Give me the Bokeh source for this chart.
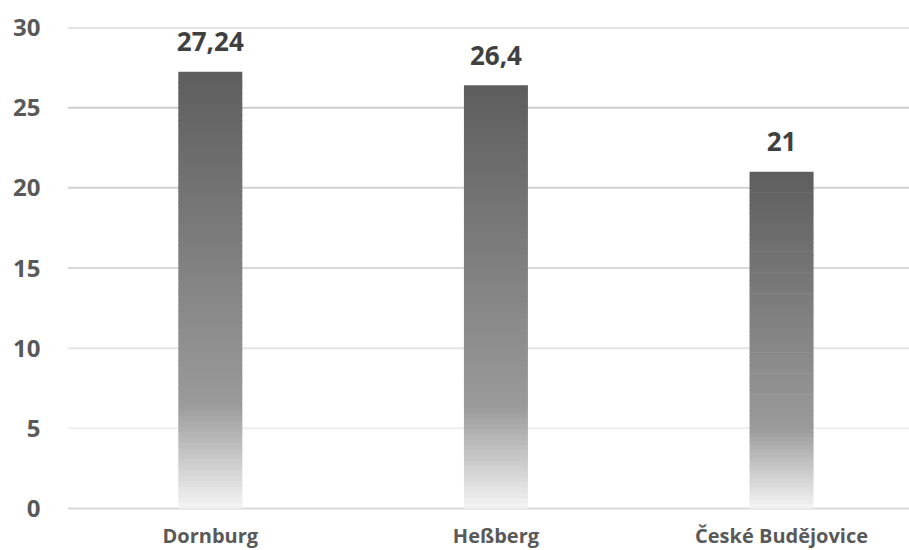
from bokeh.plotting import figure
from bokeh.models import Range1d, FixedTicker, Span, ColumnDataSource
from bokeh.embed import file_html
from bokeh.resources import INLINE
from bokeh.core.properties import value

# ---- data ----
categories = ["Dornburg", "Heßberg", "České Budějovice"]
values = [27.24, 26.4, 21]
value_labels = ["27,24", "26,4", "21"]
y_ticks = [0, 5, 10, 15, 20, 25, 30]

# ---- style ----
FONT = "Open Sans"
BAR_W = 0.224
grid_colors = {0: "#d9d9d9", 5: "#efefef", 10: "#e4e4e4", 15: "#d9d9d9",
               20: "#d2d2d2", 25: "#cdcdcd", 30: "#c8c8c8"}
stops = [(0.0, (0x5d, 0x5d, 0x5d)), (0.76, (0x9a, 0x9a, 0x9a)), (1.0, (0xf4, 0xf4, 0xf4))]


def grad_color(f):  # f: 0 at top, 1 at bottom
    for (f0, c0), (f1, c1) in zip(stops[:-1], stops[1:]):
        if f0 <= f <= f1:
            t = (f - f0) / (f1 - f0) if f1 > f0 else 0
            c = [round(a + (b - a) * t) for a, b in zip(c0, c1)]
            return "#%02x%02x%02x" % tuple(c)
    return "#%02x%02x%02x" % stops[-1][1]


# y=0 sits 42px above the bottom edge, y=30 at the top of the frame (27px)
px_per_unit = (508 - 27) / 30.0
y_start = -42 / px_per_unit

p = figure(width=909, height=550, output_backend="svg", toolbar_location=None,
           x_range=Range1d(-0.5, 2.448), y_range=Range1d(y_start, 30),
           min_border_left=67, min_border_right=0, min_border_top=27, min_border_bottom=0)
p.outline_line_color = None
p.background_fill_color = "white"
p.border_fill_color = "white"
p.xgrid.visible = False
p.ygrid.visible = False
p.xaxis.visible = False

for t in y_ticks:
    p.add_layout(Span(location=t, dimension="width", line_color=grid_colors[t],
                      line_width=2, level="underlay"))

# gradient bars made of thin slices
N = 80
left, right, bottom, top, color = [], [], [], [], []
for i, v in enumerate(values):
    for k in range(N):
        y0 = v * k / N
        y1 = v * (k + 1) / N
        f = 1 - (k + 0.5) / N
        left.append(i - BAR_W / 2)
        right.append(i + BAR_W / 2)
        bottom.append(y0)
        top.append(min(v, y1 + v / N * 0.15))
        color.append(grad_color(f))
src = ColumnDataSource(dict(left=left, right=right, bottom=bottom, top=top, color=color))
p.quad(left="left", right="right", bottom="bottom", top="top", fill_color="color",
       line_color=None, source=src)

# data labels
lab = ColumnDataSource(dict(x=list(range(len(values))), y=values, t=value_labels))
p.text(x="x", y="y", text="t", source=lab, text_font=value(FONT), text_font_style="bold",
       text_font_size="26px", text_color="#404040", text_align="center",
       text_baseline="middle", y_offset=-30)

# category labels (x axis)
cat = ColumnDataSource(dict(x=list(range(len(categories))), y=[0] * len(categories), t=categories))
p.text(x="x", y="y", text="t", source=cat, text_font=value(FONT), text_font_style="bold",
       text_font_size="20px", text_color="#595959", text_align="center",
       text_baseline="middle", y_offset=27)

# y axis
p.yaxis.ticker = FixedTicker(ticks=y_ticks)
p.yaxis.axis_line_color = None
p.yaxis.major_tick_line_color = None
p.yaxis.minor_tick_line_color = None
p.yaxis.major_tick_out = 0
p.yaxis.major_label_standoff = 27
p.yaxis.major_label_text_font = FONT
p.yaxis.major_label_text_font_style = "bold"
p.yaxis.major_label_text_font_size = "24px"
p.yaxis.major_label_text_color = "#595959"

open("out.html", "w").write(file_html(p, INLINE))
